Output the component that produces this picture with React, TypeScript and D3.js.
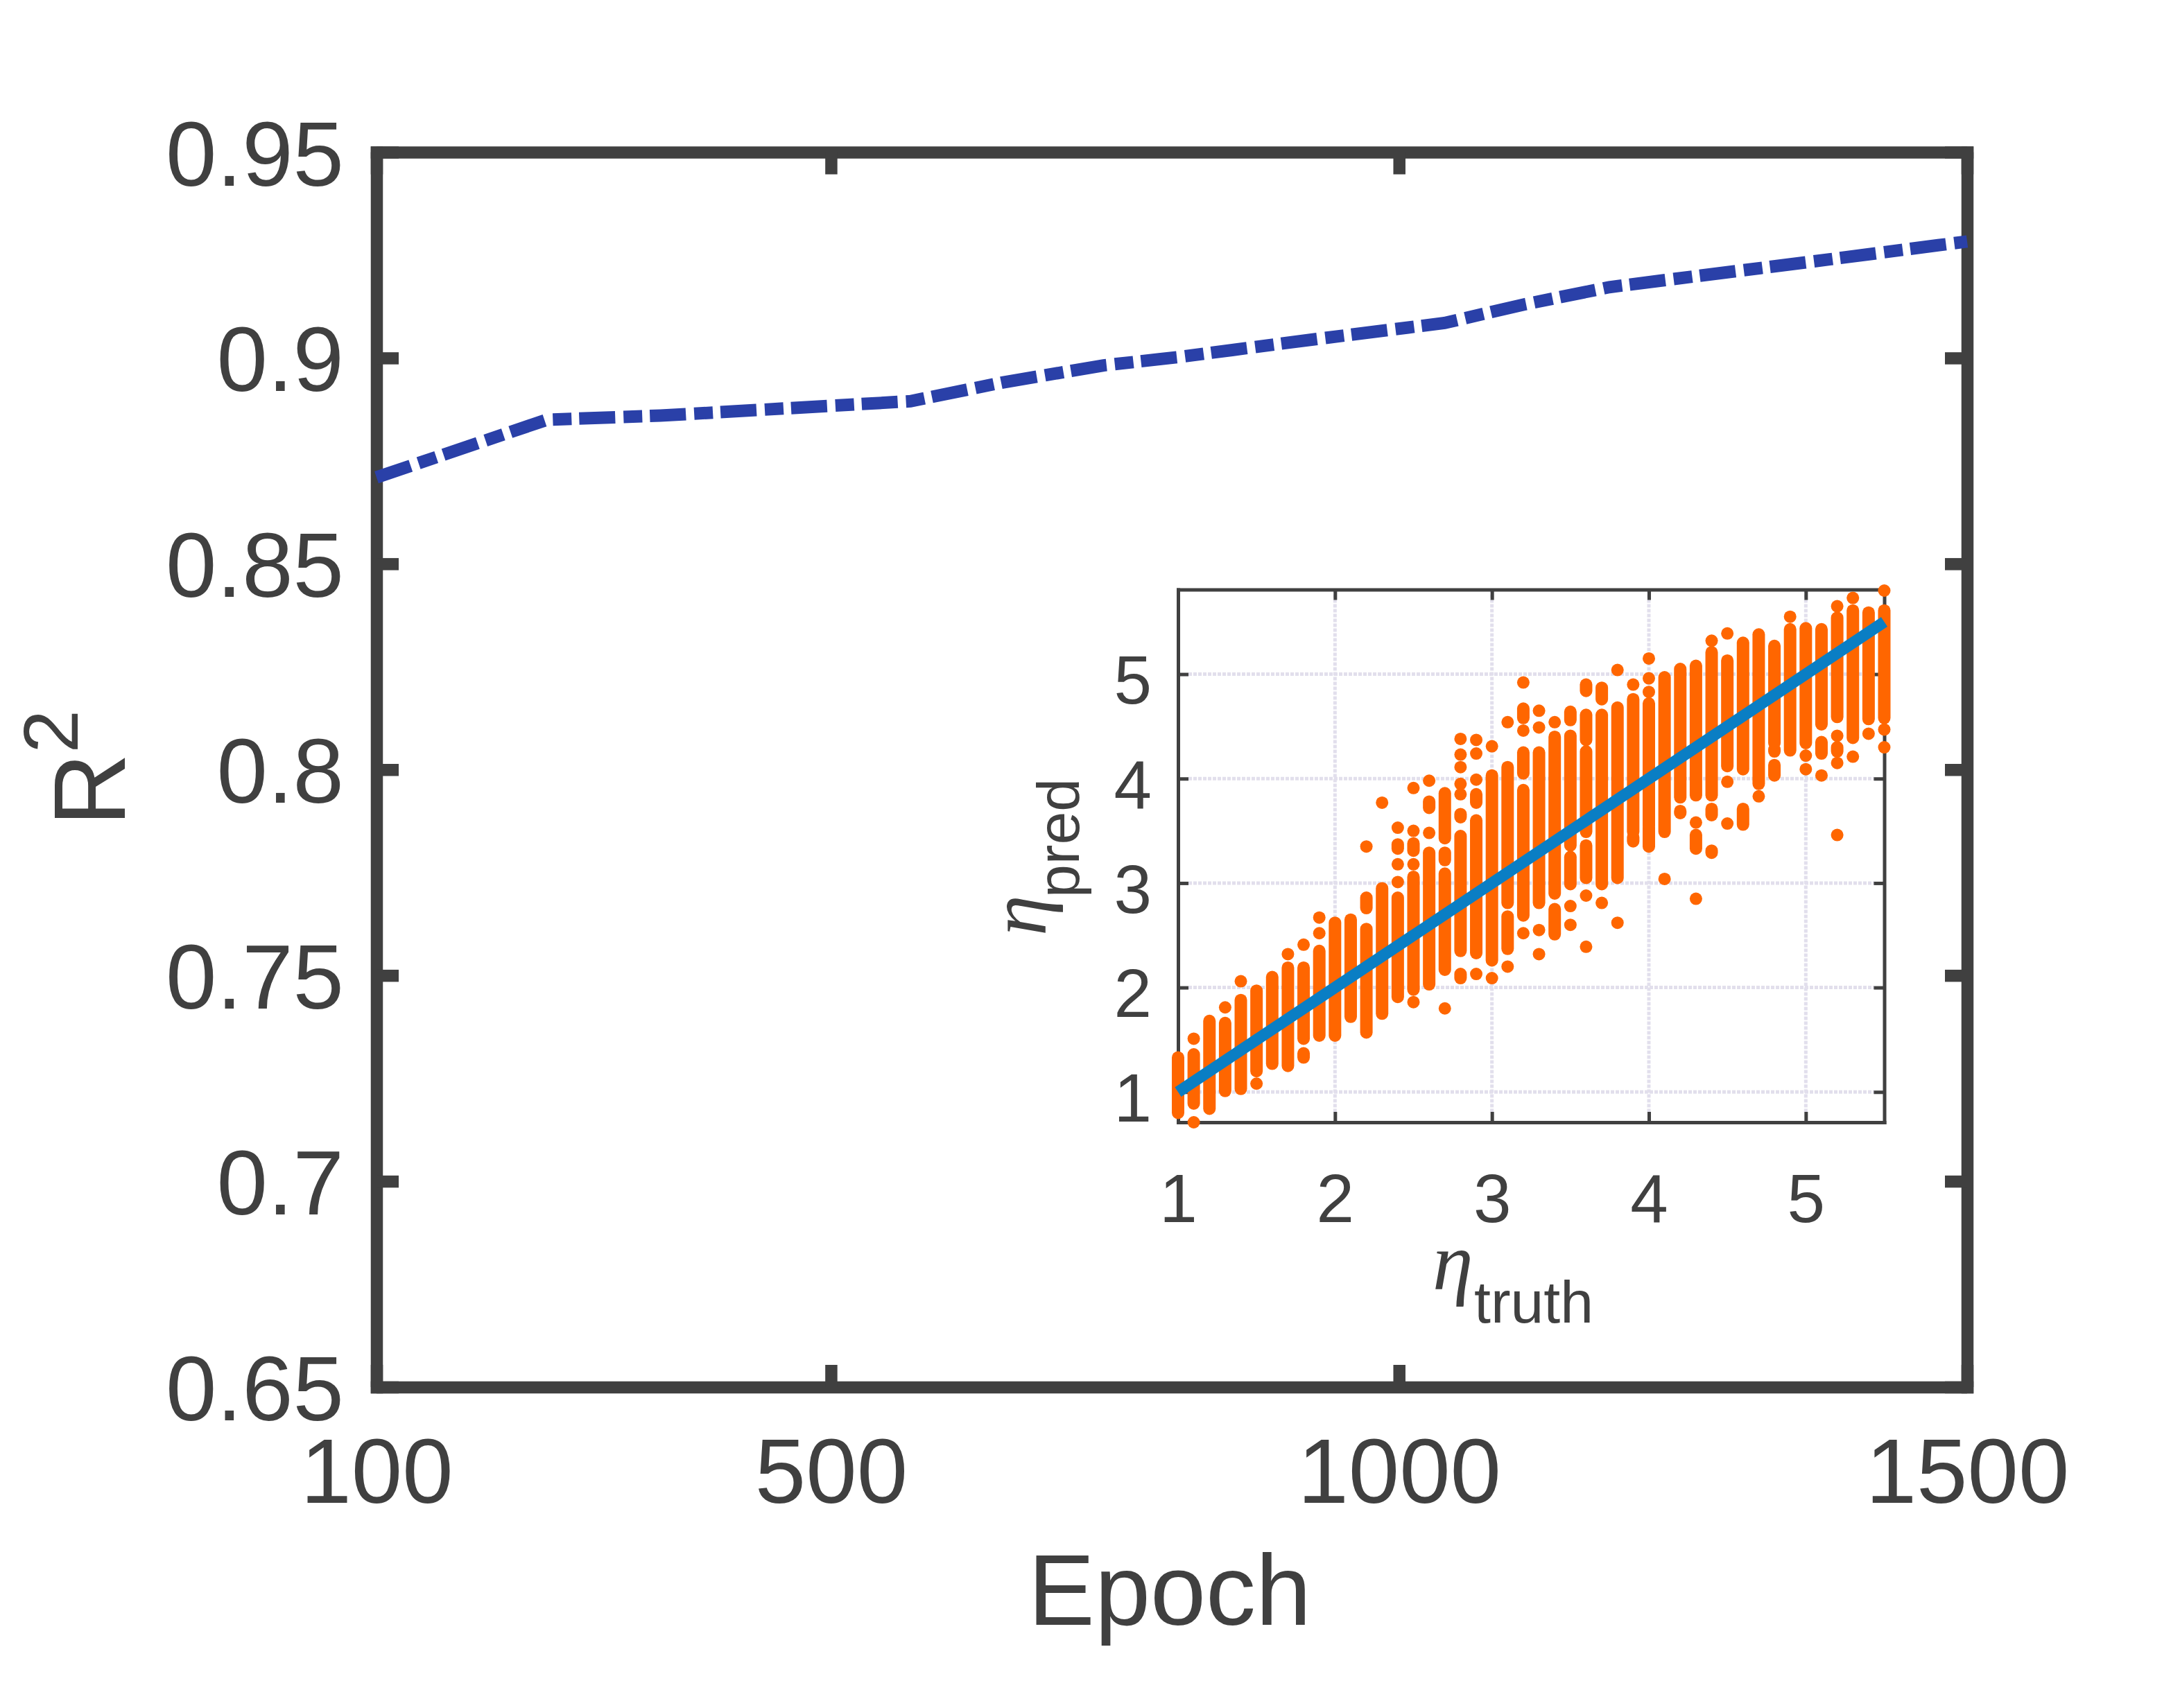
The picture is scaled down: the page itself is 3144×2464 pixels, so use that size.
import { useEffect, useRef } from 'react';
import * as d3 from 'd3';

const epochs = [100, 250, 350, 570, 650, 740, 805, 930, 1040, 1110, 1185, 1380, 1500];
const r2Values = [0.871, 0.885, 0.886, 0.8895, 0.894, 0.8982, 0.9002, 0.9047, 0.9085, 0.913, 0.9172, 0.924, 0.9283];
const epochTicks = [100, 500, 1000, 1500];
const r2Ticks = [0.65, 0.7, 0.75, 0.8, 0.85, 0.9, 0.95];

const etaTicks = [1, 2, 3, 4, 5];
const fitLine = [1, 5.5];
const etaTruth = [
  1.0, 1.1, 1.2, 1.3, 1.4, 1.5, 1.6, 1.7, 1.8, 1.9, 2.0, 2.1, 2.2, 2.3, 2.4, 2.5, 2.6, 2.7, 2.8, 2.9, 3.0, 3.1, 3.2,
  3.3, 3.4, 3.5, 3.6, 3.7, 3.8, 3.9, 4.0, 4.1, 4.2, 4.3, 4.4, 4.5, 4.6, 4.7, 4.8, 4.9, 5.0, 5.1, 5.2, 5.3, 5.4, 5.5,
];
// predicted eta per truth column, as [low, high] runs of touching dots; low == high is a lone dot
const etaPredRuns: [number, number][][] = [
  [[0.8, 1.33]],
  [[0.71, 0.71], [0.89, 1.36], [1.51, 1.51]],
  [[0.84, 1.68]],
  [[1.01, 1.66], [1.81, 1.81]],
  [[1.03, 1.88], [2.06, 2.06]],
  [[1.08, 1.08], [1.2, 1.97]],
  [[1.27, 2.1]],
  [[1.25, 2.19], [2.32, 2.32]],
  [[1.33, 1.37], [1.51, 2.19], [2.41, 2.41]],
  [[1.54, 2.35], [2.52, 2.52], [2.67, 2.67]],
  [[1.54, 2.62]],
  [[1.72, 2.65]],
  [[1.57, 2.56], [2.76, 2.86], [3.35, 3.35]],
  [[1.75, 2.95], [3.77, 3.77]],
  [[1.91, 2.86], [3.01, 3.01], [3.18, 3.18], [3.33, 3.37], [3.53, 3.53]],
  [[1.86, 1.86], [1.98, 3.06], [3.18, 3.18], [3.31, 3.38], [3.5, 3.5], [3.91, 3.91]],
  [[2.03, 3.29], [3.48, 3.48], [3.72, 3.78], [3.98, 3.98]],
  [[1.8, 1.8], [2.17, 3.09], [3.22, 3.29], [3.43, 3.86]],
  [[2.09, 2.13], [2.35, 3.45], [3.63, 3.66], [3.85, 3.85], [3.95, 3.95], [4.11, 4.11], [4.23, 4.23], [4.38, 4.38]],
  [[2.13, 2.13], [2.33, 3.6], [3.77, 3.85], [3.99, 3.99], [4.24, 4.24], [4.37, 4.37]],
  [[2.09, 2.09], [2.26, 4.03], [4.31, 4.31]],
  [[2.2, 2.2], [2.37, 2.68], [2.81, 4.11], [4.54, 4.54]],
  [[2.52, 2.52], [2.69, 3.89], [4.05, 4.25], [4.46, 4.46], [4.58, 4.67], [4.92, 4.92]],
  [[2.32, 2.32], [2.55, 2.55], [2.81, 4.25], [4.49, 4.49], [4.65, 4.65]],
  [[2.51, 2.75], [2.9, 4.4], [4.54, 4.54]],
  [[2.6, 2.6], [2.78, 2.78], [2.99, 3.25], [3.36, 4.41], [4.56, 4.64]],
  [[2.39, 2.39], [2.88, 2.88], [3.05, 3.36], [3.49, 4.26], [4.37, 4.61], [4.84, 4.9]],
  [[2.81, 2.81], [2.99, 4.61], [4.76, 4.87]],
  [[2.62, 2.62], [3.05, 4.68], [5.04, 5.04]],
  [[3.4, 3.44], [3.49, 4.76], [4.9, 4.9]],
  [[3.35, 3.53], [3.55, 4.72], [4.83, 4.83], [4.96, 4.96], [5.15, 5.15]],
  [[3.04, 3.04], [3.49, 4.97]],
  [[3.67, 3.69], [3.82, 5.05]],
  [[2.85, 2.85], [3.33, 3.46], [3.58, 3.58], [3.84, 5.08]],
  [[3.29, 3.31], [3.65, 3.71], [3.84, 5.21], [5.32, 5.32]],
  [[3.57, 3.57], [3.97, 3.97], [4.12, 5.13], [5.39, 5.39]],
  [[3.56, 3.71], [4.09, 5.3]],
  [[3.83, 3.83], [3.95, 5.38]],
  [[4.03, 4.13], [4.26, 4.28], [4.34, 5.27]],
  [[4.27, 5.43], [5.55, 5.55]],
  [[4.09, 4.09], [4.22, 4.22], [4.34, 5.44]],
  [[4.03, 4.03], [4.24, 4.35], [4.52, 5.43]],
  [[3.46, 3.46], [4.15, 4.15], [4.26, 4.3], [4.41, 4.41], [4.59, 5.54], [5.65, 5.65]],
  [[4.21, 4.21], [4.39, 5.61], [5.73, 5.73]],
  [[4.43, 4.43], [4.57, 5.59]],
  [[4.3, 4.3], [4.47, 4.47], [4.58, 5.61], [5.8, 5.8]],
];

const TEXT = '#404040';
const SANS = '"Liberation Sans", Arial, sans-serif';
const SERIF = '"Liberation Serif", serif';

type Sel = d3.Selection<SVGSVGElement, unknown, null, undefined>;

const drawFrame = (
  svg: Sel,
  x: d3.ScaleLinear<number, number>,
  y: d3.ScaleLinear<number, number>,
  xTicks: number[],
  yTicks: number[],
  tick: number,
  lineWidth: number,
  fontSize: number,
  xPad: number,
  yPad: number,
  yLabelDy: string
) => {
  const [left, right] = x.range();
  const [bottom, top] = y.range();
  const axes = [
    { axis: d3.axisBottom(x).tickValues(xTicks).tickPadding(xPad), at: [0, bottom], labels: true },
    { axis: d3.axisLeft(y).tickValues(yTicks).tickPadding(yPad), at: [left, 0], labels: true },
    { axis: d3.axisTop(x).tickValues(xTicks), at: [0, top], labels: false },
    { axis: d3.axisRight(y).tickValues(yTicks), at: [right, 0], labels: false },
  ];
  axes.forEach(({ axis, at, labels }, i) => {
    axis.tickSizeInner(-tick).tickSizeOuter(0);
    if (labels) axis.tickFormat((d) => String(d));
    else axis.tickFormat(() => '');
    const g = svg.append('g').attr('transform', `translate(${at[0]}, ${at[1]})`).call(axis as never);
    g.select('.domain').attr('stroke', TEXT).attr('stroke-width', lineWidth).attr('stroke-linecap', 'square');
    g.selectAll('.tick line').attr('stroke', TEXT).attr('stroke-width', lineWidth);
    g.selectAll('.tick text').attr('fill', TEXT).attr('font-family', SANS).attr('font-size', fontSize);
    if (i === 1) g.selectAll('.tick text').attr('dy', yLabelDy);
  });
};

export default function App() {
  const svgRef = useRef<SVGSVGElement>(null);

  useEffect(() => {
    if (!svgRef.current) return;
    const svg = d3.select(svgRef.current);
    svg.selectAll('*').remove();

    // main axes
    const x = d3.scaleLinear().domain([100, 1500]).range([543, 2837]);
    const y = d3.scaleLinear().domain([0.65, 0.95]).range([2001, 219.5]);
    drawFrame(svg, x, y, epochTicks, r2Ticks, 32, 17.5, 132, 73, 47, '0.36em');

    const r2Line = d3
      .line<number>()
      .x((d) => x(d))
      .y((_, i) => y(r2Values[i]));
    svg
      .append('path')
      .attr('d', r2Line(epochs))
      .attr('fill', 'none')
      .attr('stroke', '#2a40a8')
      .attr('stroke-width', 18)
      .attr('stroke-dasharray', '52 12 27 11');

    svg
      .append('text')
      .attr('x', 1687)
      .attr('y', 2344)
      .attr('text-anchor', 'middle')
      .attr('font-family', SANS)
      .attr('font-size', 144)
      .attr('fill', TEXT)
      .text('Epoch');

    const r2Label = svg
      .append('text')
      .attr('transform', 'translate(180, 1192) rotate(-90)')
      .attr('font-family', SANS)
      .attr('font-size', 146)
      .attr('fill', TEXT);
    r2Label.append('tspan').text('R');
    r2Label.append('tspan').attr('dy', -68).attr('font-size', 112).text('2');

    // inset axes
    const xIn = d3.scaleLinear().domain([1, 5.5]).range([1699, 2717.5]);
    const yIn = d3.scaleLinear().domain([0.71, 5.81]).range([1619, 850.5]);

    const grid = svg.append('g').attr('stroke', '#e2dfec').attr('stroke-width', 5).attr('stroke-dasharray', '5 2');
    etaTicks.slice(1).forEach((d) => {
      grid.append('line').attr('x1', xIn(d)).attr('x2', xIn(d)).attr('y1', 850.5).attr('y2', 1604);
    });
    etaTicks.forEach((d) => {
      grid.append('line').attr('x1', 1714).attr('x2', 2703).attr('y1', yIn(d)).attr('y2', yIn(d));
    });

    drawFrame(svg, xIn, yIn, etaTicks, etaTicks, 15, 5, 98, 74, 38, '0.43em');

    const runs = etaPredRuns.flatMap((col, i) => col.map((r) => ({ truth: etaTruth[i], low: r[0], high: r[1] })));
    svg
      .append('g')
      .selectAll('rect')
      .data(runs)
      .join('rect')
      .attr('x', (d) => xIn(d.truth) - 9)
      .attr('width', 18)
      .attr('y', (d) => yIn(d.high) - 9)
      .attr('height', (d) => yIn(d.low) - yIn(d.high) + 18)
      .attr('rx', 9)
      .attr('fill', '#ff6600');

    svg
      .append('line')
      .attr('x1', xIn(fitLine[0]))
      .attr('x2', xIn(fitLine[1]))
      .attr('y1', yIn(fitLine[0]))
      .attr('y2', yIn(fitLine[1]))
      .attr('stroke', '#0a7ec4')
      .attr('stroke-width', 16.5);

    const truthLabel = svg.append('g').attr('fill', TEXT);
    truthLabel
      .append('text')
      .attr('x', 2066)
      .attr('y', 1860)
      .attr('font-family', SERIF)
      .attr('font-style', 'italic')
      .attr('font-size', 118)
      .text('η');
    truthLabel
      .append('text')
      .attr('x', 2126)
      .attr('y', 1908)
      .attr('font-family', SANS)
      .attr('font-size', 86)
      .text('truth');

    const predLabel = svg.append('g').attr('fill', TEXT).attr('transform', 'translate(1508, 1350) rotate(-90)');
    predLabel
      .append('text')
      .attr('x', 0)
      .attr('y', 0)
      .attr('font-family', SERIF)
      .attr('font-style', 'italic')
      .attr('font-size', 118)
      .text('η');
    predLabel
      .append('text')
      .attr('x', 55)
      .attr('y', 48)
      .attr('font-family', SANS)
      .attr('font-size', 86)
      .text('pred');
  }, []);

  return <svg ref={svgRef} width={3144} height={2464} style={{ position: 'absolute', left: 0, top: 0, background: '#fff' }} />;
}
